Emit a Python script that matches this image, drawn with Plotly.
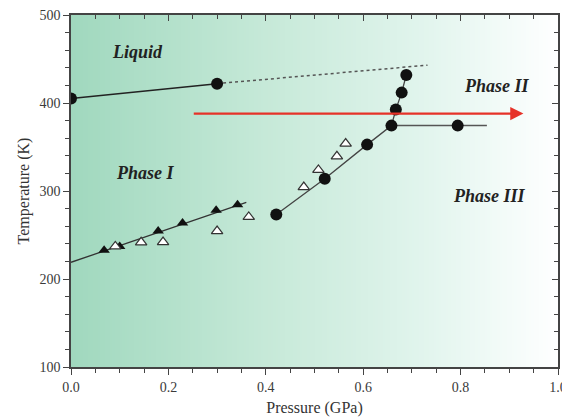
import numpy as np
import plotly.graph_objects as go

# ---- data ----
liquid_p = [0.0, 0.30]
liquid_t = [405, 422]
liquid_ext_p = [0.30, 0.732]
liquid_ext_t = [422, 443]

phase1_line_p = [0.0, 0.36]
phase1_line_t = [219, 287]
solid_tri_p = [0.068, 0.10, 0.179, 0.229, 0.298, 0.342]
solid_tri_t = [232.6, 237, 254.5, 263.6, 278, 284.5]

open_tri_p = [0.091, 0.144, 0.189, 0.30, 0.365, 0.478, 0.508, 0.546, 0.564]
open_tri_t = [237, 241.7, 242, 254.5, 270.5, 304.5, 324, 339.4, 353.9]

circ_p = [0.4215, 0.521, 0.608, 0.658, 0.667, 0.679, 0.6885]
circ_t = [273.2, 314, 352.7, 374.3, 392.5, 411.8, 431.8]
p3_line_p = [0.658, 0.854]
p3_line_t = [374.3, 374.3]
p3_circ_p = [0.794]
p3_circ_t = [374.3]

arrow_p = [0.249, 0.929]
arrow_t = [388, 388]

labels = ["Liquid", "Phase I", "Phase II", "Phase III"]
label_p = [0.136, 0.153, 0.875, 0.86]
label_t = [457.6, 321, 419, 294]

FONT = "Liberation Serif"

fig = go.Figure()

# gradient background
xc = np.linspace(0.0025, 0.9975, 200)
fig.add_trace(go.Heatmap(
    x=xc, y=[200, 400], z=[xc, xc],
    colorscale=[[0.0, "#a0d8be"], [0.4, "#c6e9d8"], [0.71, "#e0f4ec"],
                [0.92, "#f6fcfa"], [1.0, "#ffffff"]],
    zmin=0, zmax=1, showscale=False, hoverinfo="skip"))

fig.add_trace(go.Scatter(x=liquid_ext_p, y=liquid_t[1:] + liquid_ext_t[1:], mode="lines",
                         line=dict(color="#555555", width=1.5, dash="dot")))
fig.add_trace(go.Scatter(x=liquid_p, y=liquid_t, mode="lines+markers",
                         line=dict(color="#222222", width=1.5),
                         marker=dict(color="#111111", size=12)))
fig.add_trace(go.Scatter(x=phase1_line_p, y=phase1_line_t, mode="lines",
                         line=dict(color="#333333", width=1.3)))
fig.add_trace(go.Scatter(x=solid_tri_p, y=solid_tri_t, mode="markers",
                         marker=dict(symbol="triangle-up", color="#111111", size=10)))
fig.add_trace(go.Scatter(x=open_tri_p, y=open_tri_t, mode="markers",
                         marker=dict(symbol="triangle-up", color="white", size=10,
                                     line=dict(color="#333333", width=1.2))))
fig.add_trace(go.Scatter(x=p3_line_p, y=p3_line_t, mode="lines",
                         line=dict(color="#555555", width=1.5)))
fig.add_trace(go.Scatter(x=circ_p, y=circ_t, mode="lines+markers",
                         line=dict(color="#444444", width=1.3),
                         marker=dict(color="#111111", size=12)))
fig.add_trace(go.Scatter(x=p3_circ_p, y=p3_circ_t, mode="markers",
                         marker=dict(color="#111111", size=12)))

# red arrow
fig.add_annotation(x=arrow_p[1], y=arrow_t[1], ax=arrow_p[0], ay=arrow_t[0],
                   xref="x", yref="y", axref="x", ayref="y", text="",
                   showarrow=True, arrowhead=2, arrowsize=1.2, arrowwidth=2.2,
                   arrowcolor="#e63228")

for s, px, ty in zip(labels, label_p, label_t):
    fig.add_annotation(x=px, y=ty, text="<b><i>%s</i></b>" % s, showarrow=False,
                       font=dict(family=FONT, size=18, color="#222222"))

axis_common = dict(showgrid=False, zeroline=False, showline=True, linecolor="#444444",
                   linewidth=1.5, tickcolor="#444444", ticklen=6, tickwidth=1.2,
                   automargin=False)
fig.update_layout(
    width=562, height=417,
    margin=dict(l=71, r=4, t=15, b=50),
    paper_bgcolor="white", plot_bgcolor="white",
    showlegend=False,
    font=dict(family=FONT, color="#3a3a3a", size=14),
    xaxis=dict(range=[0, 1], dtick=0.2, tick0=0, tickformat=".1f", ticks="outside",
               ticklabeloverflow="allow",
               minor=dict(dtick=0.05, ticks="outside", ticklen=4, tickcolor="#444444"),
               title=dict(text="Pressure (GPa)", font=dict(size=16, color="#333333"), standoff=8),
               **axis_common),
    yaxis=dict(range=[100, 500], dtick=100, ticks="outside", ticklabeloverflow="allow",
               minor=dict(dtick=20, ticks="outside", ticklen=4, tickcolor="#444444"),
               title=dict(text="Temperature (K)", font=dict(size=16, color="#333333"), standoff=6),
               **axis_common),
    xaxis2=dict(range=[0, 1], dtick=0.2, tick0=0, ticks="inside", side="top", overlaying="x",
                showticklabels=False,
                minor=dict(dtick=0.05, ticks="inside", ticklen=4, tickcolor="#444444"),
                **axis_common),
    yaxis2=dict(range=[100, 500], dtick=100, ticks="inside", side="right", overlaying="y",
                showticklabels=False,
                minor=dict(dtick=20, ticks="inside", ticklen=4, tickcolor="#444444"),
                **axis_common),
)
# dummy trace to show secondary axes
fig.add_trace(go.Scatter(x=[None], y=[None], xaxis="x2", yaxis="y2", hoverinfo="skip"))

fig.write_html("out.html")
